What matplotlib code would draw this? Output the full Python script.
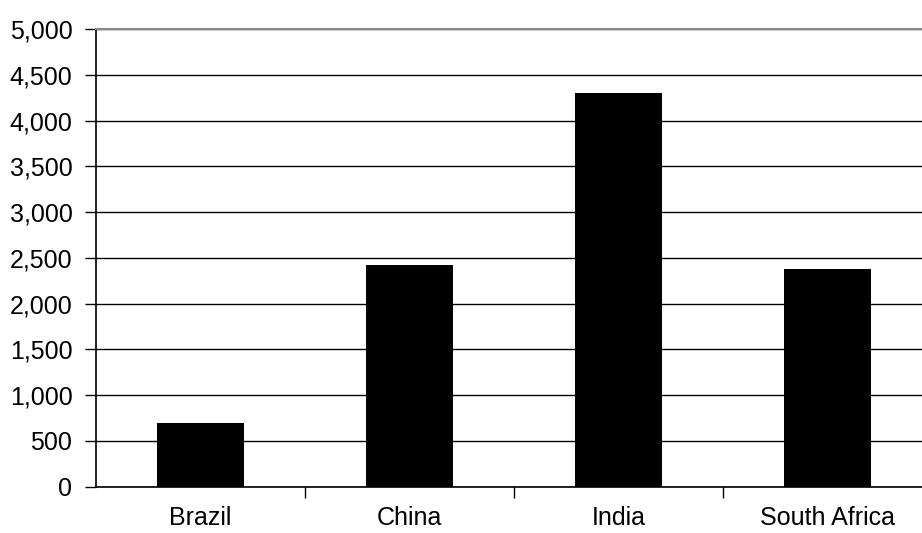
import matplotlib.pyplot as plt
from matplotlib.ticker import FuncFormatter, MultipleLocator, FixedLocator

# ---- data ----
countries = ["Brazil", "China", "India", "South Africa"]
values = [700, 2420, 4300, 2380]

plt.rcParams["font.family"] = ["Liberation Sans", "DejaVu Sans"]

fig = plt.figure(figsize=(9.22, 5.33), dpi=100)
# plot area runs past the right edge of the image, as in the original
ax = fig.add_axes([96 / 922, 0.0869, 836 / 922, 0.8587])

x = list(range(len(countries)))
ax.bar(x, values, width=0.42, color="black", zorder=3)

ax.set_xlim(-0.5, len(countries) - 0.5)
ax.set_ylim(0, 5000)

# y axis
ax.yaxis.set_major_locator(MultipleLocator(500))
ax.yaxis.set_major_formatter(FuncFormatter(lambda v, p: f"{int(v):,}"))
ax.tick_params(axis="y", direction="out", length=8, width=1, pad=9,
               labelsize=18, color="black")
ax.grid(axis="y", color="black", linewidth=1, zorder=0)

# x axis: labels at centres, tick marks between categories
ax.set_xticks(x)
ax.set_xticklabels(countries)
ax.tick_params(axis="x", which="major", length=0, pad=14, labelsize=18)
ax.xaxis.set_minor_locator(FixedLocator([i + 0.5 for i in x[:-1]]))
ax.tick_params(axis="x", which="minor", direction="out", length=8, width=1,
               color="black")

for side in ["left", "bottom"]:
    ax.spines[side].set_color("black")
    ax.spines[side].set_linewidth(1.2)
ax.spines["top"].set_color("#888888")
ax.spines["top"].set_linewidth(1.5)
ax.spines["right"].set_visible(False)

fig.savefig("out.png", dpi=100)
